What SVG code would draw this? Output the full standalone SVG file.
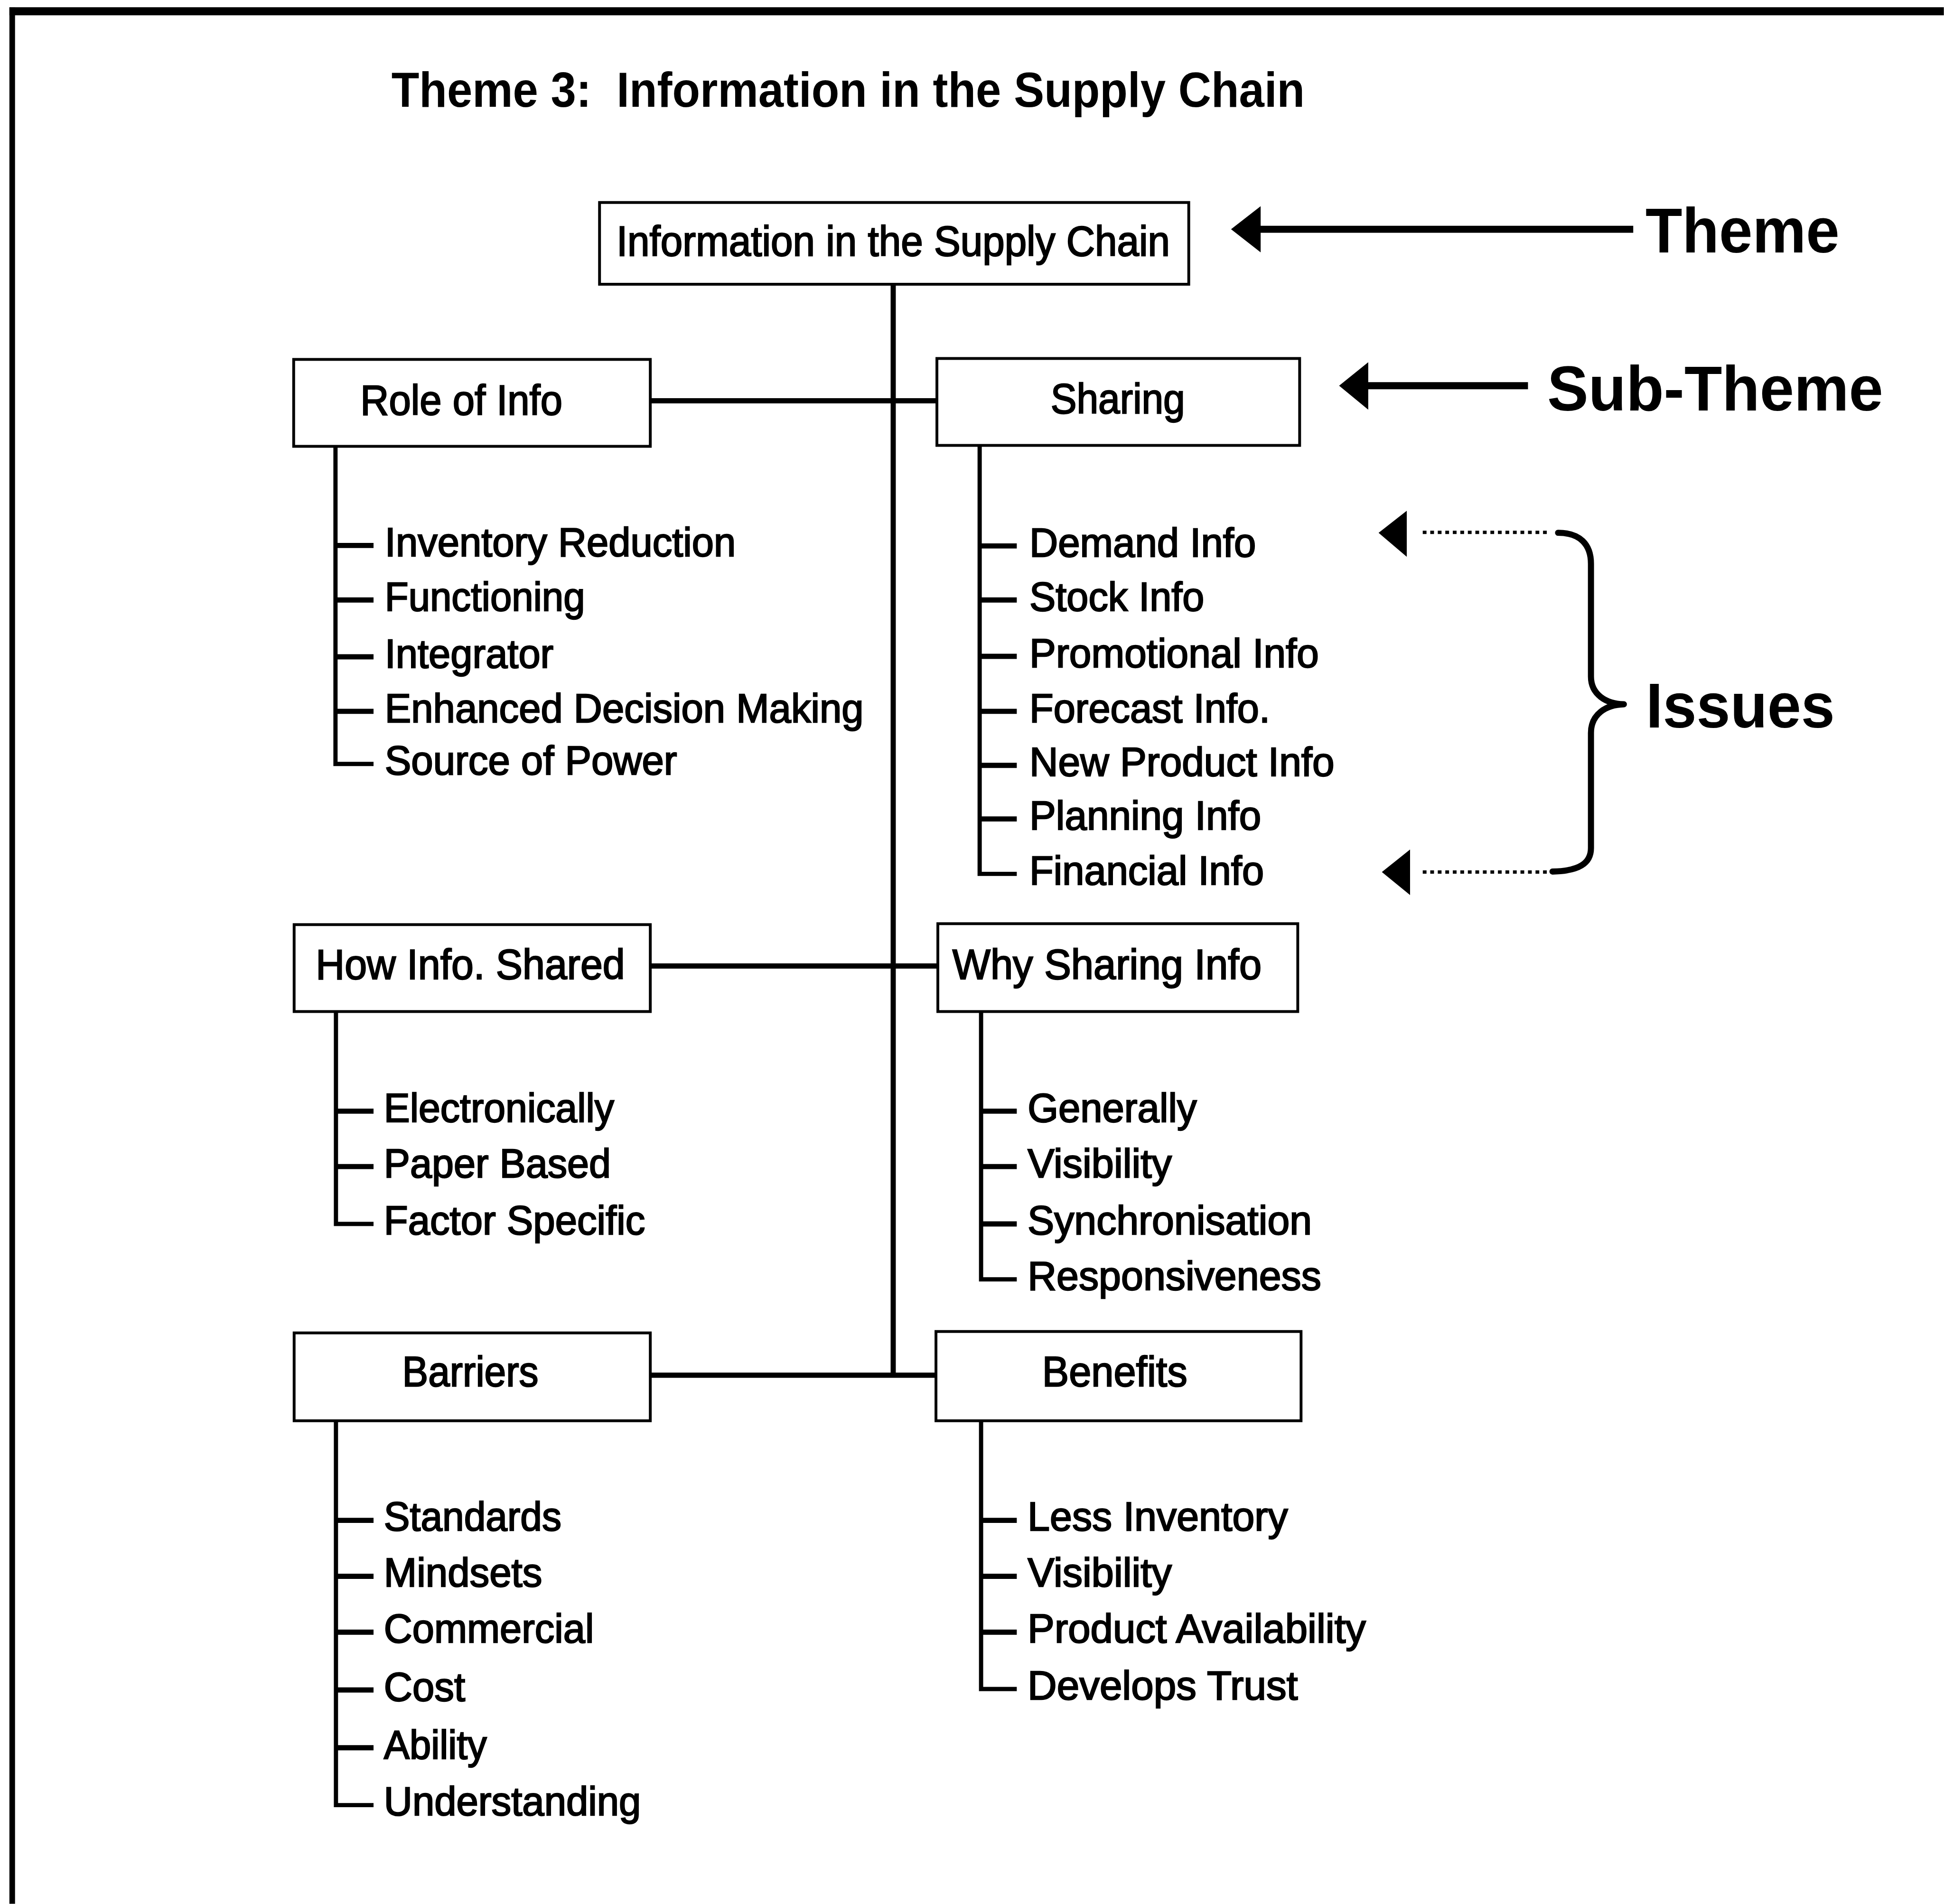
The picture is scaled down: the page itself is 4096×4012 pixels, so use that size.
<svg xmlns="http://www.w3.org/2000/svg" width="4096" height="4012" viewBox="0 0 4096 4012">
  <style>
    .frame { fill: none; stroke: #000; }
    .box { fill: #fff; stroke: #000; stroke-width: 6; }
    .conn { fill: none; stroke: #000; stroke-width: 11; stroke-linecap: square; }
    .branch { fill: none; stroke: #000; stroke-width: 9; }
    .tick { fill: none; stroke: #000; stroke-width: 11; }
    .dots { fill: none; stroke: #000; stroke-width: 7; stroke-dasharray: 8 8; }
    .brace { fill: none; stroke: #000; stroke-width: 13; stroke-linecap: round; stroke-linejoin: round; }
    .head { fill: #000; }
    .title { font-family: "Liberation Sans", Arial, sans-serif; font-weight: bold; font-size: 104px; fill: #000; }
    .label { font-family: "Liberation Sans", Arial, sans-serif; font-size: 90px; fill: #000; stroke: #000; stroke-width: 2.5; }
    .item { font-family: "Liberation Sans", Arial, sans-serif; font-size: 86px; fill: #000; stroke: #000; stroke-width: 2.5; }
    .key { font-family: "Liberation Sans", Arial, sans-serif; font-weight: bold; font-size: 134px; fill: #000; }
  </style>
  <rect x="0" y="0" width="4096" height="4012" fill="#fff"/>
  <g transform="scale(0.99)">
    <!-- page frame (top and left rules) -->
    <g id="frame">
      <line class="frame" x1="20" y1="24" x2="4137" y2="24" stroke-width="17"/>
      <line class="frame" x1="26" y1="16" x2="26" y2="4052" stroke-width="12"/>
    </g>

    <text id="title" class="title" x="833" y="227" textLength="1944" lengthAdjust="spacingAndGlyphs" xml:space="preserve">Theme 3:  Information in the Supply Chain</text>

    <!-- connectors: trunk, links to sub-themes, and item branches -->
    <g id="connectors">
      <line class="conn" x1="1901" y1="605" x2="1901" y2="2926"/>
      <line class="conn" x1="1384" y1="853" x2="1994" y2="853"/>
      <line class="conn" x1="1384" y1="2056" x2="1994" y2="2056"/>
      <line class="conn" x1="1384" y1="2927" x2="1994" y2="2927"/>

      <!-- Role of Info branch -->
      <polyline class="branch" points="714,950 714,1626 795,1626"/>
      <line class="tick" x1="714" y1="1161" x2="795" y2="1161"/>
      <line class="tick" x1="714" y1="1277" x2="795" y2="1277"/>
      <line class="tick" x1="714" y1="1398" x2="795" y2="1398"/>
      <line class="tick" x1="714" y1="1514" x2="795" y2="1514"/>

      <!-- Sharing branch -->
      <polyline class="branch" points="2085,948 2085,1860 2164,1860"/>
      <line class="tick" x1="2085" y1="1162" x2="2164" y2="1162"/>
      <line class="tick" x1="2085" y1="1277" x2="2164" y2="1277"/>
      <line class="tick" x1="2085" y1="1397" x2="2164" y2="1397"/>
      <line class="tick" x1="2085" y1="1514" x2="2164" y2="1514"/>
      <line class="tick" x1="2085" y1="1629" x2="2164" y2="1629"/>
      <line class="tick" x1="2085" y1="1743" x2="2164" y2="1743"/>

      <!-- How Info. Shared branch -->
      <polyline class="branch" points="715,2153 715,2605 795,2605"/>
      <line class="tick" x1="715" y1="2365" x2="795" y2="2365"/>
      <line class="tick" x1="715" y1="2483" x2="795" y2="2483"/>

      <!-- Why Sharing Info branch -->
      <polyline class="branch" points="2088,2153 2088,2723 2164,2723"/>
      <line class="tick" x1="2088" y1="2365" x2="2164" y2="2365"/>
      <line class="tick" x1="2088" y1="2483" x2="2164" y2="2483"/>
      <line class="tick" x1="2088" y1="2605" x2="2164" y2="2605"/>

      <!-- Barriers branch -->
      <polyline class="branch" points="715,3024 715,3842 795,3842"/>
      <line class="tick" x1="715" y1="3236" x2="795" y2="3236"/>
      <line class="tick" x1="715" y1="3355" x2="795" y2="3355"/>
      <line class="tick" x1="715" y1="3474" x2="795" y2="3474"/>
      <line class="tick" x1="715" y1="3597" x2="795" y2="3597"/>
      <line class="tick" x1="715" y1="3720" x2="795" y2="3720"/>

      <!-- Benefits branch -->
      <polyline class="branch" points="2088,3024 2088,3595 2164,3595"/>
      <line class="tick" x1="2088" y1="3236" x2="2164" y2="3236"/>
      <line class="tick" x1="2088" y1="3355" x2="2164" y2="3355"/>
      <line class="tick" x1="2088" y1="3474" x2="2164" y2="3474"/>
    </g>

    <!-- theme -->
    <g id="node-theme">
      <rect class="box" x="1276" y="431" width="1254" height="174"/>
      <text class="label" x="1312" y="544" font-size="88" textLength="1178" lengthAdjust="spacingAndGlyphs">Information in the Supply Chain</text>
    </g>

    <!-- sub-themes -->
    <g id="node-role">
      <rect class="box" x="625" y="765" width="759" height="185"/>
      <text class="label" x="767" y="883" textLength="430" lengthAdjust="spacingAndGlyphs">Role of Info</text>
    </g>
    <g id="node-sharing">
      <rect class="box" x="1994" y="763" width="772" height="185"/>
      <text class="label" x="2236" y="880" textLength="286" lengthAdjust="spacingAndGlyphs">Sharing</text>
    </g>
    <g id="node-how">
      <rect class="box" x="626" y="1968" width="758" height="185"/>
      <text class="label" x="672" y="2084" textLength="658" lengthAdjust="spacingAndGlyphs">How Info. Shared</text>
    </g>
    <g id="node-why">
      <rect class="box" x="1996" y="1966" width="766" height="187"/>
      <text class="label" x="2027" y="2084" textLength="658" lengthAdjust="spacingAndGlyphs">Why Sharing Info</text>
    </g>
    <g id="node-barriers">
      <rect class="box" x="626" y="2837" width="758" height="187"/>
      <text class="label" x="856" y="2951" textLength="290" lengthAdjust="spacingAndGlyphs">Barriers</text>
    </g>
    <g id="node-benefits">
      <rect class="box" x="1992" y="2834" width="777" height="190"/>
      <text class="label" x="2218" y="2951" textLength="309" lengthAdjust="spacingAndGlyphs">Benefits</text>
    </g>

    <!-- issue lists -->
    <g id="items-role" class="item">
      <text x="819" y="1184" textLength="747" lengthAdjust="spacingAndGlyphs">Inventory Reduction</text>
      <text x="819" y="1300" textLength="426" lengthAdjust="spacingAndGlyphs">Functioning</text>
      <text x="819" y="1421" textLength="359" lengthAdjust="spacingAndGlyphs">Integrator</text>
      <text x="819" y="1537" textLength="1019" lengthAdjust="spacingAndGlyphs">Enhanced Decision Making</text>
      <text x="819" y="1649" textLength="622" lengthAdjust="spacingAndGlyphs">Source of Power</text>
    </g>
    <g id="items-sharing" class="item">
      <text x="2191" y="1185" textLength="482" lengthAdjust="spacingAndGlyphs">Demand Info</text>
      <text x="2191" y="1300" textLength="372" lengthAdjust="spacingAndGlyphs">Stock Info</text>
      <text x="2191" y="1420" textLength="616" lengthAdjust="spacingAndGlyphs">Promotional Info</text>
      <text x="2191" y="1537" textLength="512" lengthAdjust="spacingAndGlyphs">Forecast Info.</text>
      <text x="2191" y="1652" textLength="649" lengthAdjust="spacingAndGlyphs">New Product Info</text>
      <text x="2191" y="1766" textLength="493" lengthAdjust="spacingAndGlyphs">Planning Info</text>
      <text x="2191" y="1883" textLength="499" lengthAdjust="spacingAndGlyphs">Financial Info</text>
    </g>
    <g id="items-how" class="item">
      <text x="817" y="2388" textLength="490" lengthAdjust="spacingAndGlyphs">Electronically</text>
      <text x="817" y="2506" textLength="483" lengthAdjust="spacingAndGlyphs">Paper Based</text>
      <text x="817" y="2627" textLength="556" lengthAdjust="spacingAndGlyphs">Factor Specific</text>
    </g>
    <g id="items-why" class="item">
      <text x="2187" y="2388" textLength="360" lengthAdjust="spacingAndGlyphs">Generally</text>
      <text x="2187" y="2506" textLength="307" lengthAdjust="spacingAndGlyphs">Visibility</text>
      <text x="2187" y="2627" textLength="605" lengthAdjust="spacingAndGlyphs">Synchronisation</text>
      <text x="2187" y="2745" textLength="625" lengthAdjust="spacingAndGlyphs">Responsiveness</text>
    </g>
    <g id="items-barriers" class="item">
      <text x="817" y="3258" textLength="378" lengthAdjust="spacingAndGlyphs">Standards</text>
      <text x="817" y="3377" textLength="337" lengthAdjust="spacingAndGlyphs">Mindsets</text>
      <text x="817" y="3496" textLength="447" lengthAdjust="spacingAndGlyphs">Commercial</text>
      <text x="817" y="3620" textLength="173" lengthAdjust="spacingAndGlyphs">Cost</text>
      <text x="817" y="3743" textLength="219" lengthAdjust="spacingAndGlyphs">Ability</text>
      <text x="817" y="3864" textLength="547" lengthAdjust="spacingAndGlyphs">Understanding</text>
    </g>
    <g id="items-benefits" class="item">
      <text x="2187" y="3258" textLength="554" lengthAdjust="spacingAndGlyphs">Less Inventory</text>
      <text x="2187" y="3377" textLength="307" lengthAdjust="spacingAndGlyphs">Visibility</text>
      <text x="2187" y="3496" textLength="720" lengthAdjust="spacingAndGlyphs">Product Availability</text>
      <text x="2187" y="3617" textLength="575" lengthAdjust="spacingAndGlyphs">Develops Trust</text>
    </g>

    <!-- key: Theme / Sub-Theme / Issues -->
    <g id="key-theme">
      <line stroke="#000" stroke-width="15" x1="2670" y1="488" x2="3476" y2="488"/>
      <polygon class="head" points="2620,488 2683,439 2683,537"/>
      <text class="key" x="3502" y="537" textLength="413" lengthAdjust="spacingAndGlyphs">Theme</text>
    </g>
    <g id="key-subtheme">
      <line stroke="#000" stroke-width="15" x1="2900" y1="821" x2="3252" y2="821"/>
      <polygon class="head" points="2850,821 2912,771 2912,872"/>
      <text class="key" x="3293" y="874" textLength="715" lengthAdjust="spacingAndGlyphs">Sub-Theme</text>
    </g>
    <g id="key-issues">
      <line class="dots" x1="3028" y1="1133" x2="3300" y2="1133"/>
      <polygon class="head" points="2934,1134 2994,1087 2994,1185"/>
      <line class="dots" x1="3028" y1="1856" x2="3296" y2="1856"/>
      <polygon class="head" points="2941,1856 3001,1808 3001,1905"/>
      <path class="brace" d="M3316,1134 C3362,1134 3386,1158 3386,1200 L3386,1440 C3386,1478 3418,1498 3456,1499 C3418,1500 3386,1520 3386,1560 L3386,1805 C3386,1838 3360,1854 3304,1855"/>
      <text class="key" x="3503" y="1549" textLength="402" lengthAdjust="spacingAndGlyphs">Issues</text>
    </g>
  </g>
</svg>
